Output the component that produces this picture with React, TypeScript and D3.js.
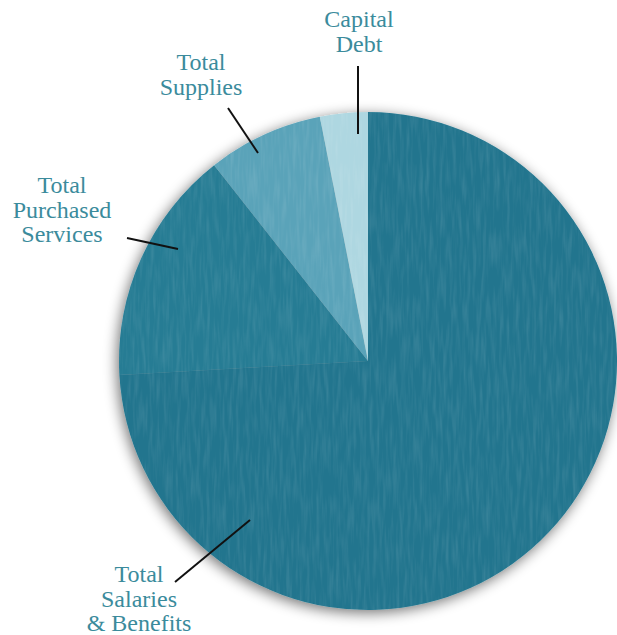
import React from "react";
import * as d3 from "d3";

const categories = ["Total Salaries & Benefits", "Total Purchased Services", "Total Supplies", "Capital Debt"];
const values = [74.1, 15.3, 7.5, 3.1];
const sliceColors = ["#21758e", "#267b94", "#5aa3b9", "#aed7e1"];

const W = 617;
const H = 635;
const cx = 368;
const cy = 361;
const R = 249;

const labelColor = "#3b8b9c";

type Label = { lines: string[]; x: number; y: number; leader: [number, number, number, number] };
const labels: Label[] = [
  { lines: ["Total", "Salaries", "& Benefits"], x: 139, y: 582, leader: [175, 582, 250, 520] },
  { lines: ["Total", "Purchased", "Services"], x: 62, y: 193, leader: [127, 238, 178, 249] },
  { lines: ["Total", "Supplies"], x: 201, y: 70, leader: [228, 108, 258, 153] },
  { lines: ["Capital", "Debt"], x: 359, y: 27, leader: [358, 66, 358, 134] },
];

export default function App() {
  const pie = d3.pie<number>().sort(null).startAngle(0).endAngle(2 * Math.PI);
  const arcs = pie(values);
  const arcGen = d3.arc<d3.PieArcDatum<number>>().innerRadius(0).outerRadius(R);
  const lineH = 24.5;
  return (
    <svg width={W} height={H} style={{ position: "absolute", left: 0, top: 0, background: "#fff" }}>
      <defs>
        <filter id="shadow" x="-20%" y="-20%" width="140%" height="140%">
          <feGaussianBlur in="SourceAlpha" stdDeviation="7" />
          <feOffset dx="-2" dy="3" result="b" />
          <feComponentTransfer>
            <feFuncA type="linear" slope="0.55" />
          </feComponentTransfer>
          <feMerge>
            <feMergeNode />
            <feMergeNode in="SourceGraphic" />
          </feMerge>
        </filter>
        <filter id="grain" x="0" y="0" width="100%" height="100%">
          <feTurbulence type="fractalNoise" baseFrequency="0.3 0.03" numOctaves="2" seed="3" result="n" />
          <feColorMatrix in="n" type="matrix" values="0 0 0 0 1  0 0 0 0 1  0 0 0 0 1  0 0 0 0.9 -0.35" />
        </filter>
        <clipPath id="pieClip">
          <circle cx={cx} cy={cy} r={R} />
        </clipPath>
      </defs>
      <g transform={`translate(${cx},${cy})`} filter="url(#shadow)">
        {arcs.map((a, i) => (
          <path key={categories[i]} d={arcGen(a) || ""} fill={sliceColors[i]} />
        ))}
      </g>
      <g clipPath="url(#pieClip)" opacity={0.22}>
        <rect x={cx - R} y={cy - R} width={2 * R} height={2 * R} filter="url(#grain)" />
      </g>
      {labels.map((l) => (
        <g key={l.lines.join(" ")}>
          <text
            x={l.x}
            y={l.y}
            textAnchor="middle"
            fill={labelColor}
            fontFamily="Times New Roman, Liberation Serif, Tinos, serif"
            fontSize={24}
          >
            {l.lines.map((t, j) => (
              <tspan key={t} x={l.x} y={l.y + j * lineH}>
                {t}
              </tspan>
            ))}
          </text>
          <line x1={l.leader[0]} y1={l.leader[1]} x2={l.leader[2]} y2={l.leader[3]} stroke="#111" strokeWidth={2} />
        </g>
      ))}
    </svg>
  );
}
